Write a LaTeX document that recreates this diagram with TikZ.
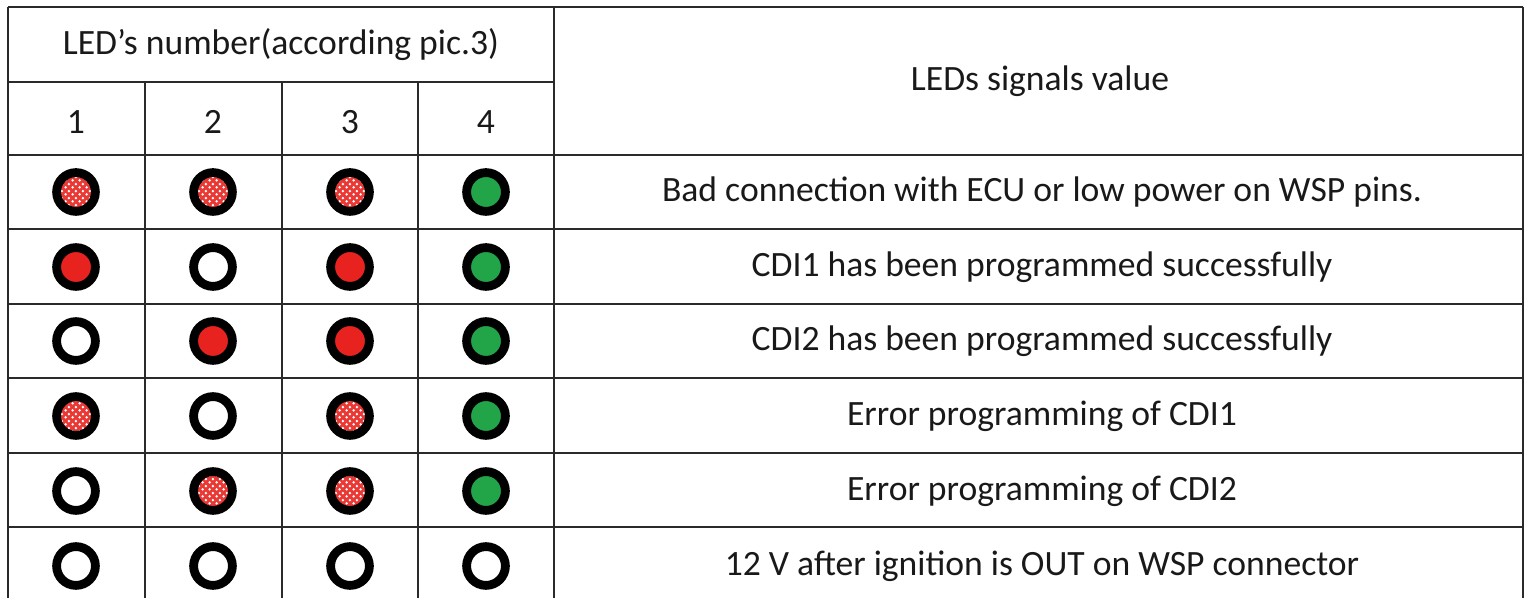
\documentclass[tikz,border=0pt]{standalone}
\usepackage{fontspec}
\setmainfont{Carlito}
\usetikzlibrary{patterns.meta}
\definecolor{ledred}{HTML}{E8231F}
\definecolor{ledgreen}{HTML}{22A548}
\definecolor{gridline}{HTML}{2A2A2A}
\tikzdeclarepattern{
    name=ledspots, type=uncolored,
    bounding box={(0,0) and (3.6pt,3.6pt)},
    tile size={(3.6pt,3.6pt)},
    code={\fill (0.9pt,0.9pt) circle (0.75pt); \fill (2.7pt,2.7pt) circle (0.75pt);}
}
\tikzset{
    grid/.style={draw=gridline, line width=1.1pt},
    label/.style={font=\fontsize{17.8}{21}\selectfont, text=black!90, inner sep=0pt},
    led/.style={circle, draw=black, line width=4.4pt, minimum size=19.4pt, inner sep=0pt},
    ledoff/.style={led, fill=white},
    ledon/.style={led, fill=ledred},
    ledok/.style={led, fill=ledgreen},
    ledblink/.style={led, preaction={fill=ledred!90}, pattern={ledspots}, pattern color=white},
}
% one row of the table: y, four led styles, text
\newcommand{\ledrow}[7]{
    \node[#3] (led#2a) at (76,#1) {};
    \node[#4] (led#2b) at (213,#1) {};
    \node[#5] (led#2c) at (350,#1) {};
    \node[#6] (led#2d) at (486,#1) {};
    \node[label] (sig#2) at (1042,#1) {#7};
}

\begin{document}
\begin{tikzpicture}[x=0.5pt, y=-0.5pt]
    \path[use as bounding box, fill=white] (0,0) rectangle (1526,598);

    % table lines
    \draw[grid] (8,7) -- (1523,7);
    \draw[grid] (8,82) -- (554,82);
    \foreach \y in {155,229,304,378,453,527}
        \draw[grid] (8,\y) -- (1523,\y);
    \foreach \x in {8,554,1523}
        \draw[grid] (\x,7) -- (\x,598);
    \foreach \x in {145,282,418}
        \draw[grid] (\x,82) -- (\x,598);

    % header
    \node[label] (ledhead) at (281,45) {LED’s number(according pic.3)};
    \node[label] (sighead) at (1040,81) {LEDs signals value};
    \node[label] (num1) at (76,122) {1};
    \node[label] (num2) at (213,122) {2};
    \node[label] (num3) at (350,122) {3};
    \node[label] (num4) at (486,122) {4};

    \ledrow{192}{1}{ledblink}{ledblink}{ledblink}{ledok}{Bad connection with ECU or low power on WSP pins.}
    \ledrow{267}{2}{ledon}{ledoff}{ledon}{ledok}{CDI1 has been programmed successfully}
    \ledrow{341}{3}{ledoff}{ledon}{ledon}{ledok}{CDI2 has been programmed successfully}
    \ledrow{416}{4}{ledblink}{ledoff}{ledblink}{ledok}{Error programming of CDI1}
    \ledrow{491}{5}{ledoff}{ledblink}{ledblink}{ledok}{Error programming of CDI2}
    \ledrow{566}{6}{ledoff}{ledoff}{ledoff}{ledoff}{12 V after ignition is OUT on WSP connector}

\end{tikzpicture}
\end{document}
